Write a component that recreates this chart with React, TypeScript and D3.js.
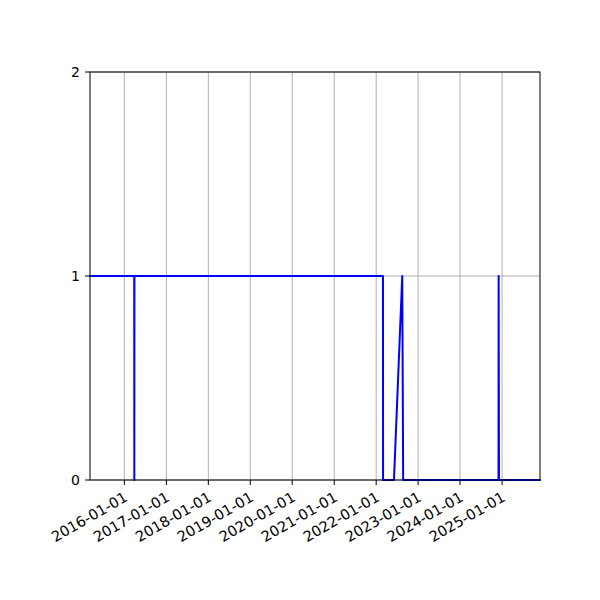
import React, { useEffect, useRef } from 'react';
import * as d3 from 'd3';

// Series (date, value)
const dates = [
  '2015-03-08', '2016-03-27', '2016-03-28', '2016-03-29', '2022-03-01',
  '2022-03-02', '2022-06-05', '2022-08-16', '2022-08-24', '2024-12-01',
  '2024-12-02', '2024-12-05', '2025-11-27',
];
const values = [1, 1, 0, 1, 1, 0, 0, 1, 0, 0, 1, 0, 0];
const yTicks = [0, 1, 2];
const xTickYears = [2016, 2017, 2018, 2019, 2020, 2021, 2022, 2023, 2024, 2025];

const App = () => {
  const ref = useRef<SVGSVGElement>(null);

  useEffect(() => {
    const svg = d3.select(ref.current);
    svg.selectAll('*').remove();

    const width = 600;
    const height = 600;
    const margin = { left: 90, right: 60, top: 72, bottom: 120 };
    const font = '"DejaVu Sans", sans-serif';

    const parse = d3.timeParse('%Y-%m-%d');
    const data = dates.map((d, i) => ({ date: parse(d) as Date, value: values[i] }));

    const x = d3.scaleTime()
      .domain(d3.extent(data, d => d.date) as [Date, Date])
      .range([margin.left, width - margin.right]);
    const y = d3.scaleLinear()
      .domain([0, 2])
      .range([height - margin.bottom, margin.top]);

    const tickDates = xTickYears.map(yr => new Date(yr, 0, 1));
    const fmt = d3.timeFormat('%Y-%m-%d');

    svg.append('rect')
      .attr('width', width)
      .attr('height', height)
      .attr('fill', 'white');

    // Grid
    const grid = svg.append('g').attr('stroke', '#b0b0b0').attr('stroke-width', 1);
    grid.selectAll('.vg')
      .data(tickDates)
      .enter()
      .append('line')
      .attr('x1', d => x(d))
      .attr('x2', d => x(d))
      .attr('y1', y(0))
      .attr('y2', y(2));
    grid.selectAll('.hg')
      .data(yTicks)
      .enter()
      .append('line')
      .attr('x1', x.range()[0])
      .attr('x2', x.range()[1])
      .attr('y1', d => y(d))
      .attr('y2', d => y(d));

    // Line
    const line = d3.line<{ date: Date; value: number }>()
      .x(d => x(d.date))
      .y(d => y(d.value));

    svg.append('path')
      .datum(data)
      .attr('d', line)
      .attr('fill', 'none')
      .attr('stroke', '#0000ff')
      .attr('stroke-width', 2)
      .attr('stroke-linejoin', 'round')
      .attr('stroke-linecap', 'square');

    // Frame
    svg.append('rect')
      .attr('x', x.range()[0])
      .attr('y', y(2))
      .attr('width', x.range()[1] - x.range()[0])
      .attr('height', y(0) - y(2))
      .attr('fill', 'none')
      .attr('stroke', 'black')
      .attr('stroke-width', 1);

    // X ticks and labels
    const xt = svg.append('g');
    xt.selectAll('line')
      .data(tickDates)
      .enter()
      .append('line')
      .attr('x1', d => x(d))
      .attr('x2', d => x(d))
      .attr('y1', y(0))
      .attr('y2', y(0) + 5)
      .attr('stroke', 'black');
    xt.selectAll('text')
      .data(tickDates)
      .enter()
      .append('text')
      .attr('transform', d => `translate(${x(d) - 1},${y(0) + 11}) rotate(-30)`)
      .attr('text-anchor', 'end')
      .attr('dy', '0.72em')
      .style('font-family', font)
      .style('font-size', '14.6px')
      .text(d => fmt(d));

    // Y ticks and labels
    const yt = svg.append('g');
    yt.selectAll('line')
      .data(yTicks)
      .enter()
      .append('line')
      .attr('x1', x.range()[0] - 5)
      .attr('x2', x.range()[0])
      .attr('y1', d => y(d))
      .attr('y2', d => y(d))
      .attr('stroke', 'black');
    yt.selectAll('text')
      .data(yTicks)
      .enter()
      .append('text')
      .attr('x', x.range()[0] - 10)
      .attr('y', d => y(d))
      .attr('dy', '0.36em')
      .attr('text-anchor', 'end')
      .style('font-family', font)
      .style('font-size', '14px')
      .text(d => String(d));
  }, []);

  return (
    <svg
      ref={ref}
      width={600}
      height={600}
      style={{ position: 'absolute', left: 0, top: 0, display: 'block' }}
    />
  );
};

export default App;
